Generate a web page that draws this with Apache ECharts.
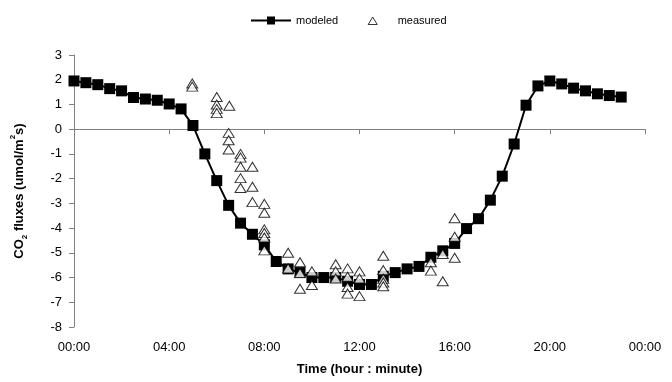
<!DOCTYPE html>
<html>
<head>
<meta charset="utf-8">
<script src="https://cdn.jsdelivr.net/npm/echarts@6/dist/echarts.min.js"></script>
<style>
  html, body { margin: 0; padding: 0; background: #fff; }
  #chart { width: 672px; height: 382px; }
</style>
</head>
<body>
<div id="chart"></div>
<script>
// modeled flux, every half hour from 00:00 to 23:00
var modeledHours = [];
for (var i = 0; i <= 46; i++) { modeledHours.push(i / 2); }
var modeledValues = [
    1.95, 1.88, 1.80, 1.64, 1.55, 1.28, 1.22, 1.17, 1.02, 0.82,
    0.15, -1.0, -2.08, -3.08, -3.8, -4.25, -4.68, -5.35, -5.65, -5.8,
    -6.0, -6.0, -6.0, -6.15, -6.28, -6.28, -5.95, -5.8, -5.65, -5.55,
    -5.18, -4.92, -4.62, -4.02, -3.62, -2.87, -1.9, -0.6, 0.97, 1.75,
    1.95, 1.83, 1.66, 1.55, 1.43, 1.36, 1.30
];

// measured flux (hour, value)
var measuredHours = [
    4.97, 4.97,
    6.0, 6.0, 6.0, 6.0,
    6.53, 6.5, 6.5, 6.5,
    7.0, 7.0, 7.0, 7.0, 7.0,
    7.5, 7.5, 7.5,
    8.0, 8.0, 8.0, 8.0, 8.0, 8.0,
    9.0, 9.0,
    9.5, 9.5, 9.5,
    10.0, 10.0,
    11.0, 11.0, 11.0,
    11.5, 11.5, 11.5, 11.5,
    12.0, 12.0, 12.0,
    13.0, 13.0, 13.0, 13.0, 13.0,
    15.0, 15.0,
    15.5, 15.5,
    16.0, 16.0, 16.0
];
var measuredValues = [
    1.85, 1.72,
    1.3, 1.0, 0.82, 0.65,
    0.95, -0.15, -0.45, -0.82,
    -1.0, -1.15, -1.52, -1.98, -2.38,
    -1.52, -2.33, -2.95,
    -3.02, -3.38, -4.05, -4.2, -4.38, -4.9,
    -5.0, -5.63,
    -5.38, -5.82, -6.45,
    -5.75, -6.3,
    -5.46, -5.75, -6.04,
    -5.63, -5.97, -6.38, -6.65,
    -5.75, -6.04, -6.75,
    -5.12, -5.7, -6.05, -6.2, -6.35,
    -5.38, -5.72,
    -5.05, -6.15,
    -3.6, -4.35, -5.2
];

var xTicks = ['00:00', '04:00', '08:00', '12:00', '16:00', '20:00', '00:00'];

function zip(xs, ys) {
    return xs.map(function (x, k) { return [x, ys[k]]; });
}

var axisColor = '#808080';
var font = 'Arial, "Liberation Sans", sans-serif';

var chart = echarts.init(document.getElementById('chart'));
chart.setOption({
    animation: false,
    backgroundColor: '#fff',
    textStyle: { fontFamily: font },
    legend: {
        top: 10,
        left: 245,
        itemGap: 14,
        itemWidth: 40,
        itemHeight: 10,
        textStyle: { fontSize: 11, color: '#000', fontFamily: font },
        data: [
            { name: 'modeled' },
            {
                name: 'measured',
                // small triangle centred inside a 40x10 box
                icon: 'path://M0,0M40,10M15.5,9L20,1.5L24.5,9Z',
                itemStyle: { color: '#fff', borderColor: '#000', borderWidth: 1 }
            }
        ]
    },
    grid: { left: 74, right: 27, top: 55, bottom: 55 },
    xAxis: {
        type: 'value',
        min: 0,
        max: 24,
        interval: 4,
        name: 'Time (hour : minute)',
        nameLocation: 'middle',
        nameGap: 36,
        nameTextStyle: { fontSize: 13, fontWeight: 'bold', color: '#000', fontFamily: font },
        axisLine: { lineStyle: { color: axisColor, width: 1 } },
        axisTick: { inside: false, length: 5, lineStyle: { color: axisColor } },
        axisLabel: {
            fontSize: 13, color: '#000', margin: 14,
            formatter: function (v) { return xTicks[Math.round(v / 4)]; }
        },
        splitLine: { show: false }
    },
    yAxis: {
        type: 'value',
        min: -8,
        max: 3,
        interval: 1,
        name: '{a|CO}{sub|2}{a| fluxes (umol/m}{sup|2}{a|s)}',
        nameLocation: 'middle',
        nameGap: 45,
        nameRotate: 90,
        nameTextStyle: {
            color: '#000',
            rich: {
                a: { fontSize: 13, fontWeight: 'bold', fontFamily: font, color: '#000', lineHeight: 16 },
                sub: { fontSize: 8, fontWeight: 'bold', fontFamily: font, color: '#000', verticalAlign: 'bottom', lineHeight: 12 },
                sup: { fontSize: 8, fontWeight: 'bold', fontFamily: font, color: '#000', verticalAlign: 'top', lineHeight: 20 }
            }
        },
        axisLine: { show: true, lineStyle: { color: axisColor, width: 1 } },
        axisTick: { show: true, inside: false, length: 5, lineStyle: { color: axisColor } },
        axisLabel: { fontSize: 13, color: '#000', margin: 12 },
        splitLine: { show: false }
    },
    series: [
        {
            name: 'modeled',
            type: 'line',
            data: zip(modeledHours, modeledValues),
            symbol: 'rect',
            symbolSize: 11,
            showAllSymbol: true,
            itemStyle: { color: '#000' },
            lineStyle: { color: '#000', width: 2 },
            z: 2
        },
        {
            name: 'measured',
            type: 'scatter',
            data: zip(measuredHours, measuredValues),
            symbol: 'triangle',
            symbolSize: [11, 9],
            itemStyle: { color: '#fff', borderColor: '#000', borderWidth: 1 },
            z: 3
        }
    ]
});
</script>
</body>
</html>
